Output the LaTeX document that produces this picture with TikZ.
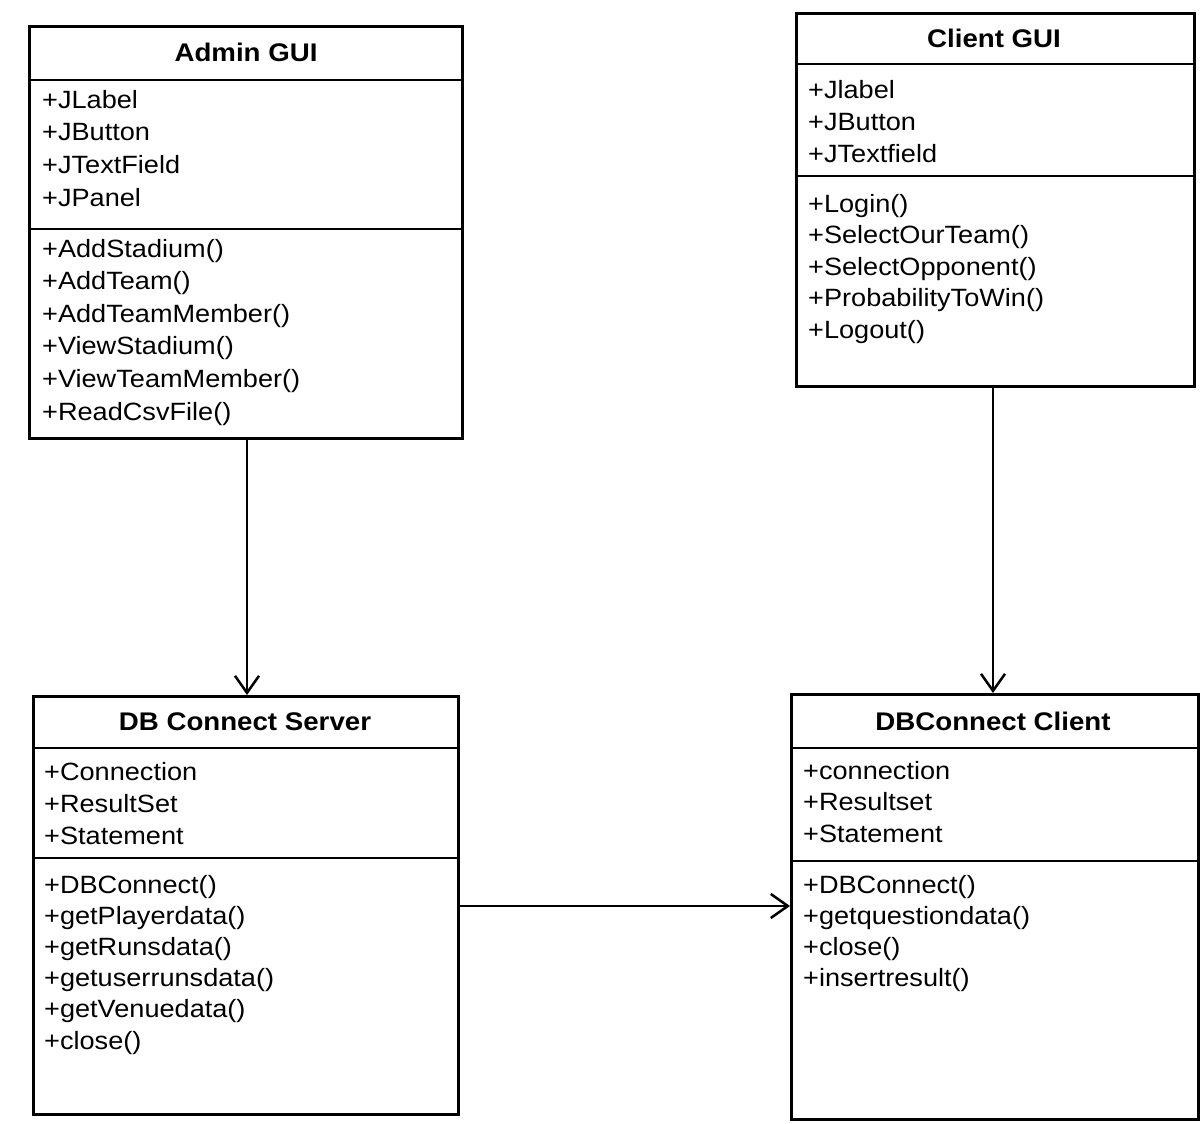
\documentclass[tikz,border=0pt]{standalone}
\usepackage{fontspec}
\setmainfont[FakeStretch=1.085]{Liberation Sans}
\usetikzlibrary{arrows.meta}
\begin{document}
\begin{tikzpicture}[x=1pt,y=-1pt,
  classbox/.style={draw, line width=2.8pt, rectangle, inner sep=0pt, anchor=north west},
  divider/.style={line width=2.8pt},
  title/.style={font=\fontsize{25.5}{30}\selectfont\bfseries, inner sep=0pt},
  item/.style={font=\fontsize{25}{30}\selectfont, inner sep=0pt, anchor=west, text height=18pt, text depth=0pt},
  conn/.style={line width=2.5pt, -{Straight Barb[length=17pt,width=24pt]}}]
\useasboundingbox[fill=white] (0,0) rectangle (1200,1124);

% ---- Admin GUI ----
\node[classbox, minimum width=433pt, minimum height=412pt] (admin) at (28,25) {};
\draw[divider] (admin.west |- 0,80) -- (admin.east |- 0,80);
\draw[divider] (admin.west |- 0,229) -- (admin.east |- 0,229);
\node[title] (admint) at (246,52) {Admin GUI};
\foreach \t [count=\i from 0] in {+JLabel,+JButton,+JTextField,+JPanel}
  \node[item] (aa\i) at (42,99+32.7*\i) {\t};
\foreach \t [count=\i from 0] in {+AddStadium(),+AddTeam(),+AddTeamMember(),+ViewStadium(),+ViewTeamMember(),+ReadCsvFile()}
  \node[item] (am\i) at (42,248+32.6*\i) {\t};

% ---- Client GUI ----
\node[classbox, minimum width=398pt, minimum height=373pt] (client) at (795,12) {};
\draw[divider] (client.west |- 0,64) -- (client.east |- 0,64);
\draw[divider] (client.west |- 0,176) -- (client.east |- 0,176);
\node[title] (clientt) at (994,38) {Client GUI};
\foreach \t [count=\i from 0] in {+Jlabel,+JButton,+JTextfield}
  \node[item] (ca\i) at (808,90+31.5*\i) {\t};
\foreach \t [count=\i from 0] in {+Login(),+SelectOurTeam(),+SelectOpponent(),+ProbabilityToWin(),+Logout()}
  \node[item] (cm\i) at (808,203+31.5*\i) {\t};

% ---- DB Connect Server ----
\node[classbox, minimum width=425pt, minimum height=418pt] (server) at (32,695) {};
\draw[divider] (server.west |- 0,748) -- (server.east |- 0,748);
\draw[divider] (server.west |- 0,858) -- (server.east |- 0,858);
\node[title] (servert) at (245,722) {DB Connect Server};
\foreach \t [count=\i from 0] in {+Connection,+ResultSet,+Statement}
  \node[item] (sa\i) at (44,771+32*\i) {\t};
\foreach \t [count=\i from 0] in {+DBConnect(),+getPlayerdata(),+getRunsdata(),+getuserrunsdata(),+getVenuedata(),+close()}
  \node[item] (sm\i) at (44,884+31.2*\i) {\t};

% ---- DBConnect Client ----
\node[classbox, minimum width=407pt, minimum height=425pt] (dbclient) at (790,693) {};
\draw[divider] (dbclient.west |- 0,748) -- (dbclient.east |- 0,748);
\draw[divider] (dbclient.west |- 0,861) -- (dbclient.east |- 0,861);
\node[title] (dbclientt) at (993,721) {DBConnect Client};
\foreach \t [count=\i from 0] in {+connection,+Resultset,+Statement}
  \node[item] (da\i) at (803,770+31.5*\i) {\t};
\foreach \t [count=\i from 0] in {+DBConnect(),+getquestiondata(),+close(),+insertresult()}
  \node[item] (dm\i) at (803,884+31.3*\i) {\t};

% ---- connectors ----
\draw[conn] (admin.south -| 247,0) -- (server.north -| 247,0);
\draw[conn] (client.south -| 993,0) -- (dbclient.north -| 993,0);
\draw[conn] (server.east |- 0,906) -- (dbclient.west |- 0,906);
\end{tikzpicture}
\end{document}
